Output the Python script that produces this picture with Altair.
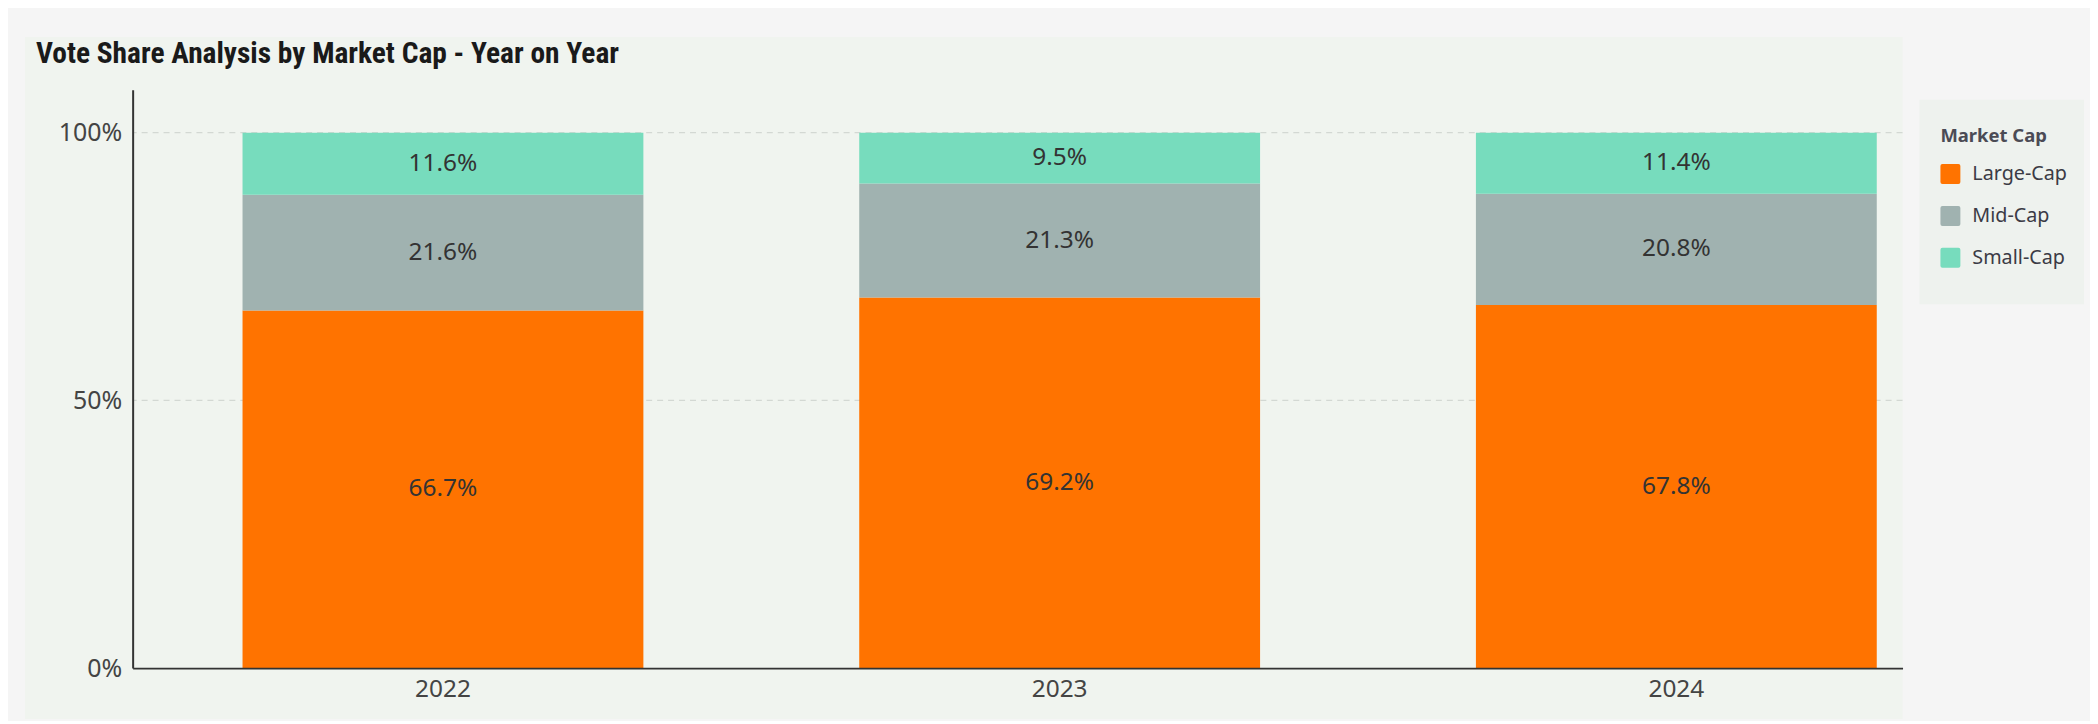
import altair as alt
import pandas as pd

years = ["2022", "2023", "2024"]
caps = ["Large-Cap", "Mid-Cap", "Small-Cap"]
large_cap = [66.7, 69.2, 67.8]
mid_cap = [21.6, 21.3, 20.8]
small_cap = [11.6, 9.5, 11.4]
cap_colors = ["#FF7300", "#A0B2B0", "#77DCBD"]
y_ticks = [0, 0.5, 1]
grid_lines = [0.5, 1]

rows = []
for i, y in enumerate(years):
    for k, (c, series) in enumerate(zip(caps, [large_cap, mid_cap, small_cap])):
        rows.append({"year": y, "cap": c, "value": series[i], "ord": k})
df = pd.DataFrame(rows)

W, H = 1775, 580
LABEL_FONT = "Noto Sans, Open Sans, sans-serif"
TITLE_FONT = "Roboto Condensed, Liberation Sans Narrow, DejaVu Sans Condensed, Roboto, sans-serif"
yscale = alt.Scale(domain=[0, 1.08], nice=False)

panel = alt.Chart(alt.Data(values=[{}])).mark_rect(color="#F0F4EF").encode(
    x=alt.value(-108), x2=alt.value(W), y=alt.value(-53), y2=alt.value(631)
)
legend_box = alt.Chart(alt.Data(values=[{}])).mark_rect(color="#EEF2EE").encode(
    x=alt.value(1792), x2=alt.value(1957), y=alt.value(10), y2=alt.value(215)
)

grid = alt.Chart(pd.DataFrame({"g": grid_lines})).mark_rule(
    color="#D3D8D3", strokeDash=[6, 5], strokeWidth=1.2
).encode(y=alt.Y("g:Q", scale=yscale))

base = alt.Chart(df).transform_stack(
    stack="value", groupby=["year"], sort=[alt.SortField("ord", order="ascending")],
    as_=["y0", "y1"], offset="normalize"
).transform_calculate(
    mid="(datum.y0 + datum.y1) / 2",
    lbl="format(datum.value, '.1f') + '%'"
)

xenc = alt.X("year:N", sort=years, title=None,
             scale=alt.Scale(paddingInner=0.35, paddingOuter=0.11, align=0.81),
             axis=alt.Axis(labelAngle=0, ticks=False, labelPadding=9, labelFontSize=24.5,
                           labelFont=LABEL_FONT, labelColor="#444444", zindex=2,
                           domainColor="#333333", domainWidth=2, grid=False))

bars = base.mark_bar().encode(
    x=xenc,
    y=alt.Y("y0:Q", title=None, scale=yscale,
            axis=alt.Axis(values=y_ticks, format=".0%", ticks=False, labelPadding=11,
                          labelFontSize=25, labelFont=LABEL_FONT, labelColor="#444444",
                          domainColor="#333333", domainWidth=2, zindex=2, grid=False)),
    y2="y1:Q",
    color=alt.Color("cap:N", sort=caps,
                    scale=alt.Scale(domain=caps, range=cap_colors),
                    legend=alt.Legend(title="Market Cap", orient="none", legendX=1813, legendY=37,
                                      padding=0,
                                      titleFont=LABEL_FONT, titleFontSize=18.5, titleFontWeight="bold",
                                      titleColor="#4B4B55", titlePadding=19,
                                      labelFont=LABEL_FONT, labelFontSize=19.8, labelColor="#3B3B45",
                                      symbolType="M-0.8,-1H0.8Q1,-1,1,-0.8V0.8Q1,1,0.8,1H-0.8Q-1,1,-1,0.8V-0.8Q-1,-1,-0.8,-1Z",
                                      symbolSize=400, symbolStrokeWidth=0, rowPadding=22,
                                      labelOffset=12)),
    order=alt.Order("ord:Q"),
)

labels = base.mark_text(fontSize=24.5, font=LABEL_FONT, color="#333333").encode(
    x=alt.X("year:N", sort=years),
    y=alt.Y("mid:Q", scale=yscale),
    text="lbl:N",
)

chart = alt.layer(panel, legend_box, grid, bars, labels).properties(
    width=W, height=H,
    padding={"left": 125, "top": 81, "right": 188, "bottom": 52},
    autosize=alt.AutoSizeParams(type="none"),
    background="#F5F5F5",
    title=alt.Title("Vote Share Analysis by Market Cap - Year on Year", anchor="start", dx=11,
                    offset=0, dy=33, fontSize=29.5, font=TITLE_FONT, fontWeight="bold", color="#1A1A1A"),
).configure_view(stroke=None)

chart.save("out.html", embed_options={"renderer": "svg", "actions": False})
